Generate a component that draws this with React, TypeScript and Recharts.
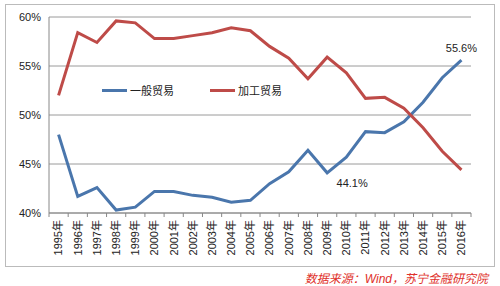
import { LineChart, Line, XAxis, YAxis, CartesianGrid, LabelList } from "recharts";

const years = [
  "1995年", "1996年", "1997年", "1998年", "1999年", "2000年", "2001年", "2002年",
  "2003年", "2004年", "2005年", "2006年", "2007年", "2008年", "2009年", "2010年",
  "2011年", "2012年", "2013年", "2014年", "2015年", "2016年",
];
const general = [
  48.0, 41.7, 42.6, 40.3, 40.6, 42.2, 42.2, 41.8, 41.6, 41.1, 41.3, 43.0,
  44.2, 46.4, 44.1, 45.7, 48.3, 48.2, 49.3, 51.3, 53.8, 55.6,
];
const processing = [
  52.0, 58.4, 57.4, 59.6, 59.4, 57.8, 57.8, 58.1, 58.4, 58.9, 58.6, 57.0,
  55.8, 53.7, 55.9, 54.3, 51.7, 51.8, 50.7, 48.7, 46.3, 44.4,
];
const yTicks = [40, 45, 50, 55, 60];
const labelled: Record<number, string> = { 14: "44.1%", 21: "55.6%" };

const data = years.map((y, i) => ({ year: y, general: general[i], processing: processing[i] }));

const BLUE = "#4A76AC";
const RED = "#BE4B48";
const FONT = "'Liberation Sans', 'Noto Sans CJK SC', sans-serif";
const HALF = 421 / 22 / 2;

// tick marks sit between the categories, like the Excel original
function YearTick({ x, y, payload, index }: any) {
  return (
    <g>
      <line x1={x - HALF} y1={y} x2={x - HALF} y2={y + 4} stroke="#888" />
      {index === years.length - 1 && (
        <line x1={x + HALF} y1={y} x2={x + HALF} y2={y + 4} stroke="#888" />
      )}
      <text
        transform={`translate(${x},${y + 7}) rotate(-90)`}
        textAnchor="end"
        dy="0.35em"
        fontSize={11}
        fill="#222"
        fontFamily={FONT}
      >
        {payload.value}
      </text>
    </g>
  );
}

function PointLabel({ x, y, index }: any) {
  const text = labelled[index];
  if (!text) return null;
  const dx = index === 21 ? 0 : 25;
  const dy = index === 21 ? -12 : 10;
  return (
    <text x={x + dx} y={y + dy} textAnchor="middle" dy="0.35em" fontSize={11} fill="#222" fontFamily={FONT}>
      {text}
    </text>
  );
}

function LegendBox() {
  const item = (color: string, name: string) => (
    <div style={{ display: "flex", alignItems: "center", marginRight: 36 }}>
      <div style={{ width: 25, height: 3, background: color, marginRight: 3 }} />
      <span style={{ fontSize: 11, color: "#222" }}>{name}</span>
    </div>
  );
  return (
    <div style={{ position: "absolute", left: 102, top: 82, display: "flex", fontFamily: FONT }}>
      {item(BLUE, "一般贸易")}
      {item(RED, "加工贸易")}
    </div>
  );
}

export default function App() {
  return (
    <div style={{ position: "fixed", left: 0, top: 0, width: 500, height: 286, background: "#fff" }}>
      <div
        style={{ position: "absolute", left: 5, top: 4, width: 488, height: 261, border: "1px solid #bbb" }}
      />
      <LineChart
        width={500}
        height={286}
        data={data}
        margin={{ top: 17, right: 29, bottom: 0, left: 5 }}
        style={{ position: "absolute", left: 0, top: 0 }}
      >
        <CartesianGrid vertical={false} stroke="#9a9a9a" />
        <XAxis
          dataKey="year"
          interval={0}
          tick={<YearTick />}
          tickLine={false}
          tickSize={0}
          tickMargin={0}
          axisLine={{ stroke: "#888" }}
          height={73}
          padding={{ left: HALF, right: HALF }}
        />
        <YAxis
          domain={[40, 60]}
          ticks={yTicks}
          tickFormatter={(v) => `${v}%`}
          width={44}
          tickLine={false}
          axisLine={{ stroke: "#888" }}
          tick={{ fontSize: 11, fill: "#222", fontFamily: FONT }}
        />
        <Line
          dataKey="general"
          name="一般贸易"
          stroke={BLUE}
          strokeWidth={3}
          dot={false}
          type="linear"
          isAnimationActive={false}
        >
          <LabelList dataKey="general" content={<PointLabel />} />
        </Line>
        <Line
          dataKey="processing"
          name="加工贸易"
          stroke={RED}
          strokeWidth={3}
          dot={false}
          type="linear"
          isAnimationActive={false}
        />
      </LineChart>
      <LegendBox />
      <div
        style={{
          position: "absolute",
          right: 12,
          top: 269,
          fontSize: 12,
          fontStyle: "italic",
          color: "#e0302a",
          fontFamily: FONT,
        }}
      >
        数据来源：Wind，苏宁金融研究院
      </div>
    </div>
  );
}
